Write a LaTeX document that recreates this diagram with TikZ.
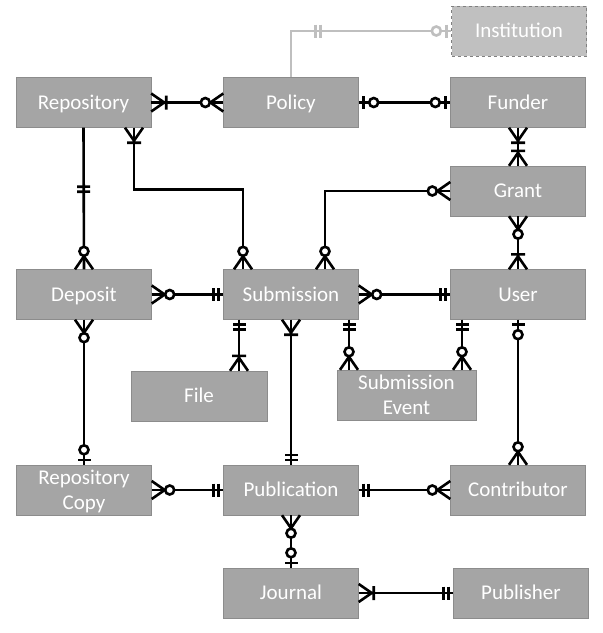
\documentclass[tikz,border=0pt]{standalone}
\usepackage{fontspec}
\setmainfont{Carlito}
\usepackage{tikz}
\usetikzlibrary{decorations.markings}

\definecolor{boxgray}{HTML}{A5A5A5}
\definecolor{boxedge}{HTML}{8C8C8C}
\definecolor{instgray}{HTML}{C0C0C0}
\definecolor{linegray}{HTML}{BFBFBF}

\newcommand{\erOneOne}{\draw (-5,-6.5) -- (-5,6.5) (-10,-6.5) -- (-10,6.5);}
\newcommand{\erZeroOne}{\draw (-5,-6.5) -- (-5,6.5); \draw[fill=white] (-15,0) circle (4.5);}
\newcommand{\erOneMany}{\draw (0,9) -- (-13,0) -- (0,-9) (-15,-7) -- (-15,7);}
\newcommand{\erZeroMany}{\draw (0,9) -- (-13,0) -- (0,-9); \draw[fill=white] (-18,0) circle (4.5);}
\newcommand{\erBarsMid}{\draw (-2.5,-6.5) -- (-2.5,6.5) (2.5,-6.5) -- (2.5,6.5);}

\begin{document}
\begin{tikzpicture}[x=1pt, y=-1pt,
        entity/.style={rectangle, draw=boxedge, fill=boxgray, text=white, align=center,
            font=\fontsize{21}{25}\selectfont, text height=18pt, text depth=5pt,
            minimum width=135pt, minimum height=50pt, inner sep=0pt},
        twolines/.style={text height=43pt},
        conn/.style={line width=2.6pt},
        glyph end/.style={postaction={decorate, decoration={markings, mark=at position 1 with {#1}}}},
        glyph start/.style={postaction={decorate, decoration={markings,
            mark=at position 0 with {\begin{scope}[xscale=-1]#1\end{scope}}}}},
        one one end/.style={glyph end=\erOneOne},
        one one start/.style={glyph start=\erOneOne},
        zero one end/.style={glyph end=\erZeroOne},
        zero one start/.style={glyph start=\erZeroOne},
        one many end/.style={glyph end=\erOneMany},
        one many start/.style={glyph start=\erOneMany},
        zero many end/.style={glyph end=\erZeroMany},
        zero many start/.style={glyph start=\erZeroMany},
        bars mid/.style={postaction={decorate, decoration={markings, mark=at position #1 with {\erBarsMid}}}}]
    \useasboundingbox (0,0) rectangle (603,633);

    \node [entity, fill=instgray, draw=gray, dashed] (inst) at (519,31) {Institution};
    \node [entity] (repo)      at (83.5,102.5) {Repository};
    \node [entity] (policy)    at (291,102.5)  {Policy};
    \node [entity] (funder)    at (518,102.5)  {Funder};
    \node [entity] (grant)     at (518,191)    {Grant};
    \node [entity] (deposit)   at (84,294.5)   {Deposit};
    \node [entity] (subm)      at (291,294.5)  {Submission};
    \node [entity] (user)      at (518,294.5)  {User};
    \node [entity, minimum width=136pt] (file)  at (199,396)   {File};
    \node [entity, twolines, minimum width=139pt] (event) at (406.5,395) {Submission\\Event};
    \node [entity, twolines] (repcopy) at (84,490) {Repository\\Copy};
    \node [entity] (pub)       at (291,490)    {Publication};
    \node [entity] (contrib)   at (518,490)    {Contributor};
    \node [entity] (journal)   at (291,593)    {Journal};
    \node [entity] (publisher) at (521,593)    {Publisher};

    \draw [conn, color=linegray, bars mid=73pt, zero one end] (policy.north) |- (inst.west);
    \draw [conn, one many start, zero many end] (repo) -- (policy);
    \draw [conn, zero one start, zero one end] (policy) -- (funder);
    \draw [conn, bars mid=61.5pt, zero many end] (repo.south) -- (deposit.north);
    \draw [conn, one many start, zero many end] ([xshift=50.5pt]repo.south) -- ++(0,62) -| ([xshift=-48pt]subm.north);
    \draw [conn, zero many start, zero many end] (grant.west) -| ([xshift=34pt]subm.north);
    \draw [conn, one many start, one many end] (funder) -- (grant);
    \draw [conn, zero many start, one many end] (grant) -- (user);
    \draw [conn, zero many start, one one end] (deposit) -- (subm);
    \draw [conn, zero many start, one one end] (subm) -- (user);
    \draw [conn, one one start, one many end] ([xshift=-52pt]subm.south) -- ([xshift=40pt]file.north);
    \draw [conn, one many start, one one end] (subm) -- (pub);
    \draw [conn, one one start, zero many end] ([xshift=58pt]subm.south) -- ([xshift=-57.5pt]event.north);
    \draw [conn, one one start, zero many end] ([xshift=-56pt]user.south) -- ([xshift=55.5pt]event.north);
    \draw [conn, zero one start, zero many end] (user) -- (contrib);
    \draw [conn, zero many start, zero one end] (deposit) -- (repcopy);
    \draw [conn, zero many start, one one end] (repcopy) -- (pub);
    \draw [conn, one one start, zero many end] (pub) -- (contrib);
    \draw [conn, zero many start, zero one end] (pub) -- (journal);
    \draw [conn, one many start, one one end] (journal) -- (publisher);
\end{tikzpicture}
\end{document}
